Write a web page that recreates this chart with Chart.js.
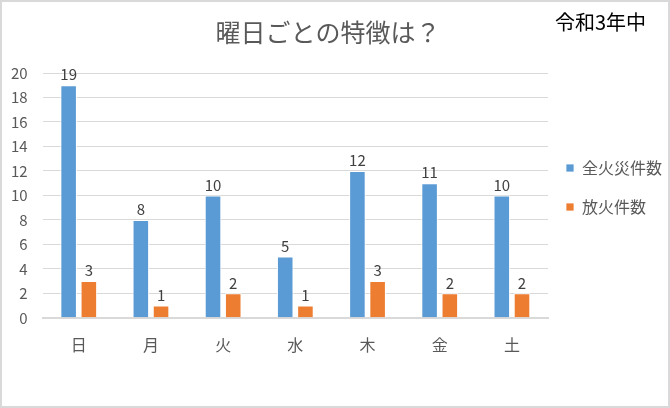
<!DOCTYPE html>
<html><head><meta charset="utf-8">
<script src="https://cdn.jsdelivr.net/npm/chart.js@4/dist/chart.umd.min.js"></script>
<style>
html,body{margin:0;padding:0;background:#fff;}
#wrap{position:relative;width:670px;height:408px;box-sizing:border-box;border:2px solid #d9d9d9;background:#fff;}
#note{position:absolute;right:22px;top:10px;font-family:"Noto Sans CJK JP";font-size:20px;line-height:20px;font-weight:400;color:#000;}
canvas{display:block;}
</style></head>
<body>
<div id="wrap"><canvas id="c" width="666" height="404"></canvas><div id="note">令和3年中</div></div>
<script>
const categories = ["日","月","火","水","木","金","土"];
const allFires = [19,8,10,5,12,11,10];
const arsons = [3,1,2,1,3,2,2];
const seriesNames = ["全火災件数","放火件数"];
const yTicks = {min:0, max:20, step:2};
const FONT = '"Noto Sans CJK JP", "Noto Sans", sans-serif';

const labelPlugin = {
  id:'barLabels',
  afterLayout(chart){
    const lg = chart.legend;
    if (lg) { lg.left -= 5; lg.right += 8; }
  },
  afterDatasetsDraw(chart){
    const ctx = chart.ctx;
    ctx.save();
    ctx.font = '15px ' + FONT;
    ctx.fillStyle = '#404040';
    ctx.textAlign = 'center';
    ctx.textBaseline = 'bottom';
    chart.data.datasets.forEach((ds,i)=>{
      chart.getDatasetMeta(i).data.forEach((el,j)=>{
        ctx.fillText(String(ds.data[j]), el.x, el.y - 3);
      });
    });
    ctx.restore();
  }
};

new Chart(document.getElementById('c'), {
  type:'bar',
  data:{
    labels:categories,
    datasets:[
      {label:seriesNames[0], data:allFires, backgroundColor:'#5b9bd5', borderColor:'#ffffff', borderWidth:{left:1,right:1,top:1,bottom:0}, categoryPercentage:0.56, barPercentage:0.82},
      {label:seriesNames[1], data:arsons, backgroundColor:'#ed7d31', borderColor:'#ffffff', borderWidth:{left:1,right:1,top:1,bottom:0}, categoryPercentage:0.56, barPercentage:0.82}
    ]
  },
  options:{
    responsive:false,
    animation:false,
    devicePixelRatio:1,
    layout:{padding:{left:-6,right:8,top:8,bottom:41}},
    plugins:{
      title:{display:true,text:'曜日ごとの特徴は？',color:'#595959',font:{family:FONT,size:25,weight:'normal'},padding:{top:7,bottom:26}},
      legend:{position:'right',maxWidth:112,labels:{font:{family:FONT,size:16},color:'#595959',boxWidth:8,boxHeight:8,padding:23}},
      tooltip:{enabled:false}
    },
    scales:{
      x:{grid:{display:false},border:{color:'#d9d9d9',width:2},ticks:{font:{family:FONT,size:16},color:'#595959',padding:10}},
      y:{min:yTicks.min,max:yTicks.max,ticks:{stepSize:yTicks.step,font:{family:FONT,size:15},color:'#595959',padding:15},grid:{color:'#d9d9d9',drawTicks:false},border:{display:false}}
    }
  },
  plugins:[labelPlugin]
});
</script>
</body></html>
